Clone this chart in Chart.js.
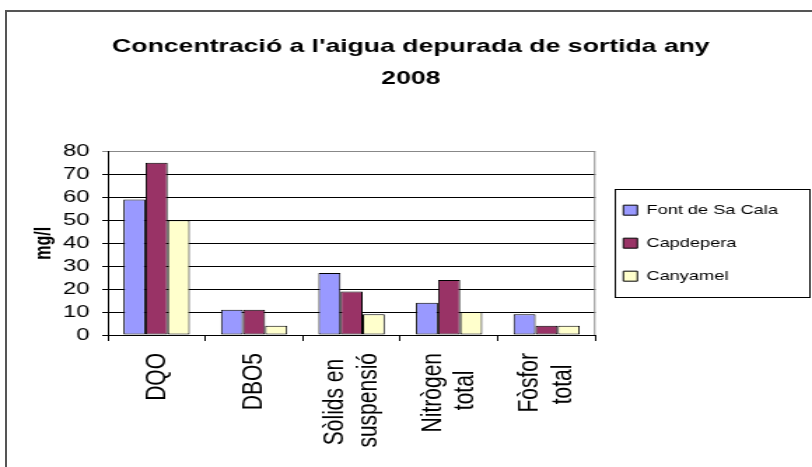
<!DOCTYPE html>
<html>
<head>
<meta charset="utf-8">
<script src="https://cdn.jsdelivr.net/npm/chart.js@4/dist/chart.umd.min.js"></script>
<style>
  html, body { margin: 0; padding: 0; background: #fff; overflow: hidden; }
  #frame { position: absolute; left: 5px; top: 10px; width: 900px; height: 600px;
           border-left: 2px solid #555; border-top: 2px solid #555; }
  #wrap { position: absolute; left: 0; top: 0; transform: scaleX(1.4); transform-origin: 0 0; }
</style>
</head>
<body>
<div id="frame"></div>
<div id="wrap"><canvas id="chart" width="580" height="467"></canvas></div>
<script>
// data (mg/l)
const categories = [['DQO'], ['DBO5'], ['Sòlids en', 'suspensió'], ['Nitrògen', 'total'], ['Fòsfor', 'total']];
const fontDeSaCala = [59, 11, 27, 14, 9];
const capdepera = [75, 11, 19, 24, 4];
const canyamel = [50, 4, 9, 10, 4];
const yTicks = [0, 10, 20, 30, 40, 50, 60, 70, 80];

const FONT = "'Liberation Sans', Arial, sans-serif";
Chart.defaults.color = '#000';
Chart.defaults.font.family = FONT;

const tickFont = { size: 21, lineHeight: 1.12 };

// the rotated two-line names are centred line by line in the original,
// so pad the shorter line with trailing spaces
const measurer = document.createElement('canvas').getContext('2d');
const centreLines = (lines) => {
  measurer.font = tickFont.size + 'px ' + FONT;
  const w = lines.map(t => measurer.measureText(t).width);
  const max = Math.max(...w);
  const sp = measurer.measureText('\u00a0').width;
  return lines.map((t, i) => t + '\u00a0'.repeat(Math.round((max - w[i]) / 2 / sp)));
};

// plot frame on the right side + box round the legend
const frames = {
  id: 'frames',
  beforeDatasetsDraw(chart) {
    const { ctx, chartArea: a } = chart;
    ctx.save();
    ctx.strokeStyle = '#888';
    ctx.lineWidth = 1;
    ctx.beginPath();
    ctx.moveTo(a.right - 0.5, a.top);
    ctx.lineTo(a.right - 0.5, a.bottom);
    ctx.stroke();
    ctx.restore();
  },
  afterDraw(chart) {
    const lg = chart.legend;
    const hb = lg.legendHitBoxes;
    if (!hb || !hb.length) return;
    const ctx = chart.ctx;
    const first = hb[0], last = hb[hb.length - 1];
    const x = Math.round(lg.left + lg.options.labels.padding - 6) + 0.5;
    const y = Math.round(first.top + first.height / 2 - 21) + 0.5;
    const y2 = Math.round(last.top + last.height / 2 + 21) + 0.5;
    ctx.save();
    ctx.strokeStyle = '#000';
    ctx.lineWidth = 1;
    ctx.strokeRect(x, y, chart.width - 1.5 - x, y2 - y);
    ctx.restore();
  }
};

let thatchart = new Chart(document.getElementById('chart'), {
  type: 'bar',
  data: {
    labels: categories,
    datasets: [
      { label: 'Font de Sa Cala', data: fontDeSaCala, backgroundColor: '#9999FF' },
      { label: 'Capdepera', data: capdepera, backgroundColor: '#993366' },
      { label: 'Canyamel', data: canyamel, backgroundColor: '#FFFFCC' }
    ]
  },
  options: {
    responsive: false,
    animation: false,
    devicePixelRatio: 1,
    layout: { padding: { left: 30, right: 23, top: 0, bottom: 0 } },
    datasets: {
      bar: {
        borderColor: '#000',
        borderWidth: 1,
        borderSkipped: false,
        categoryPercentage: 0.68,
        barPercentage: 1
      }
    },
    plugins: {
      title: {
        display: true,
        text: ["Concentració a l'aigua depurada de sortida any", '2008'],
        font: { size: 19, weight: 'bold', lineHeight: 1.72 },
        padding: { top: 30, bottom: 56 },
        color: '#000'
      },
      legend: {
        position: 'right',
        fullSize: false,
        labels: {
          boxWidth: 10,
          boxHeight: 10,
          padding: 20,
          font: { size: 13 },
          color: '#000'
        }
      },
      tooltip: { enabled: false }
    },
    scales: {
      x: {
        type: 'category',
        offset: true,
        grid: { offset: true, drawOnChartArea: false, drawTicks: true, tickLength: 6, color: '#000' },
        border: { color: '#000', width: 1 },
        ticks: {
          autoSkip: false,
          minRotation: 90,
          maxRotation: 90,
          padding: 12,
          font: tickFont,
          color: '#000',
          callback(value) {
            const l = this.getLabelForValue(value);
            return l.length === 1 ? l : '';
          }
        },
        afterFit(scale) { scale.height = 132; }
      },
      // two-line category names, centred on their group
      x2: {
        type: 'category',
        position: { y: 0 },
        offset: true,
        grid: { display: false, drawTicks: false },
        border: { display: false },
        ticks: {
          autoSkip: false,
          minRotation: 90,
          maxRotation: 90,
          padding: 18,
          labelOffset: -tickFont.size * tickFont.lineHeight / 2,
          font: tickFont,
          color: '#000',
          callback(value) {
            const l = this.getLabelForValue(value);
            return l.length > 1 ? centreLines(l) : '';
          }
        }
      },
      y: {
        min: yTicks[0],
        max: yTicks[yTicks.length - 1],
        afterBuildTicks(scale) { scale.ticks = yTicks.map(v => ({ value: v })); },
        grid: {
          color: (c) => (c.tick && c.tick.value === 80 ? '#888' : '#000'),
          tickLength: 4
        },
        border: { color: '#000', width: 1 },
        ticks: { autoSkip: false, padding: 9, font: { size: 17, lineHeight: 1 }, color: '#000' },
        title: {
          display: true,
          text: 'mg/l',
          font: { size: 16, weight: 'bold' },
          padding: { top: -8, bottom: 0 },
          color: '#000'
        },
        afterFit(scale) { scale.width = 47; }
      }
    }
  },
  plugins: [frames]
});
</script>
</body>
</html>
